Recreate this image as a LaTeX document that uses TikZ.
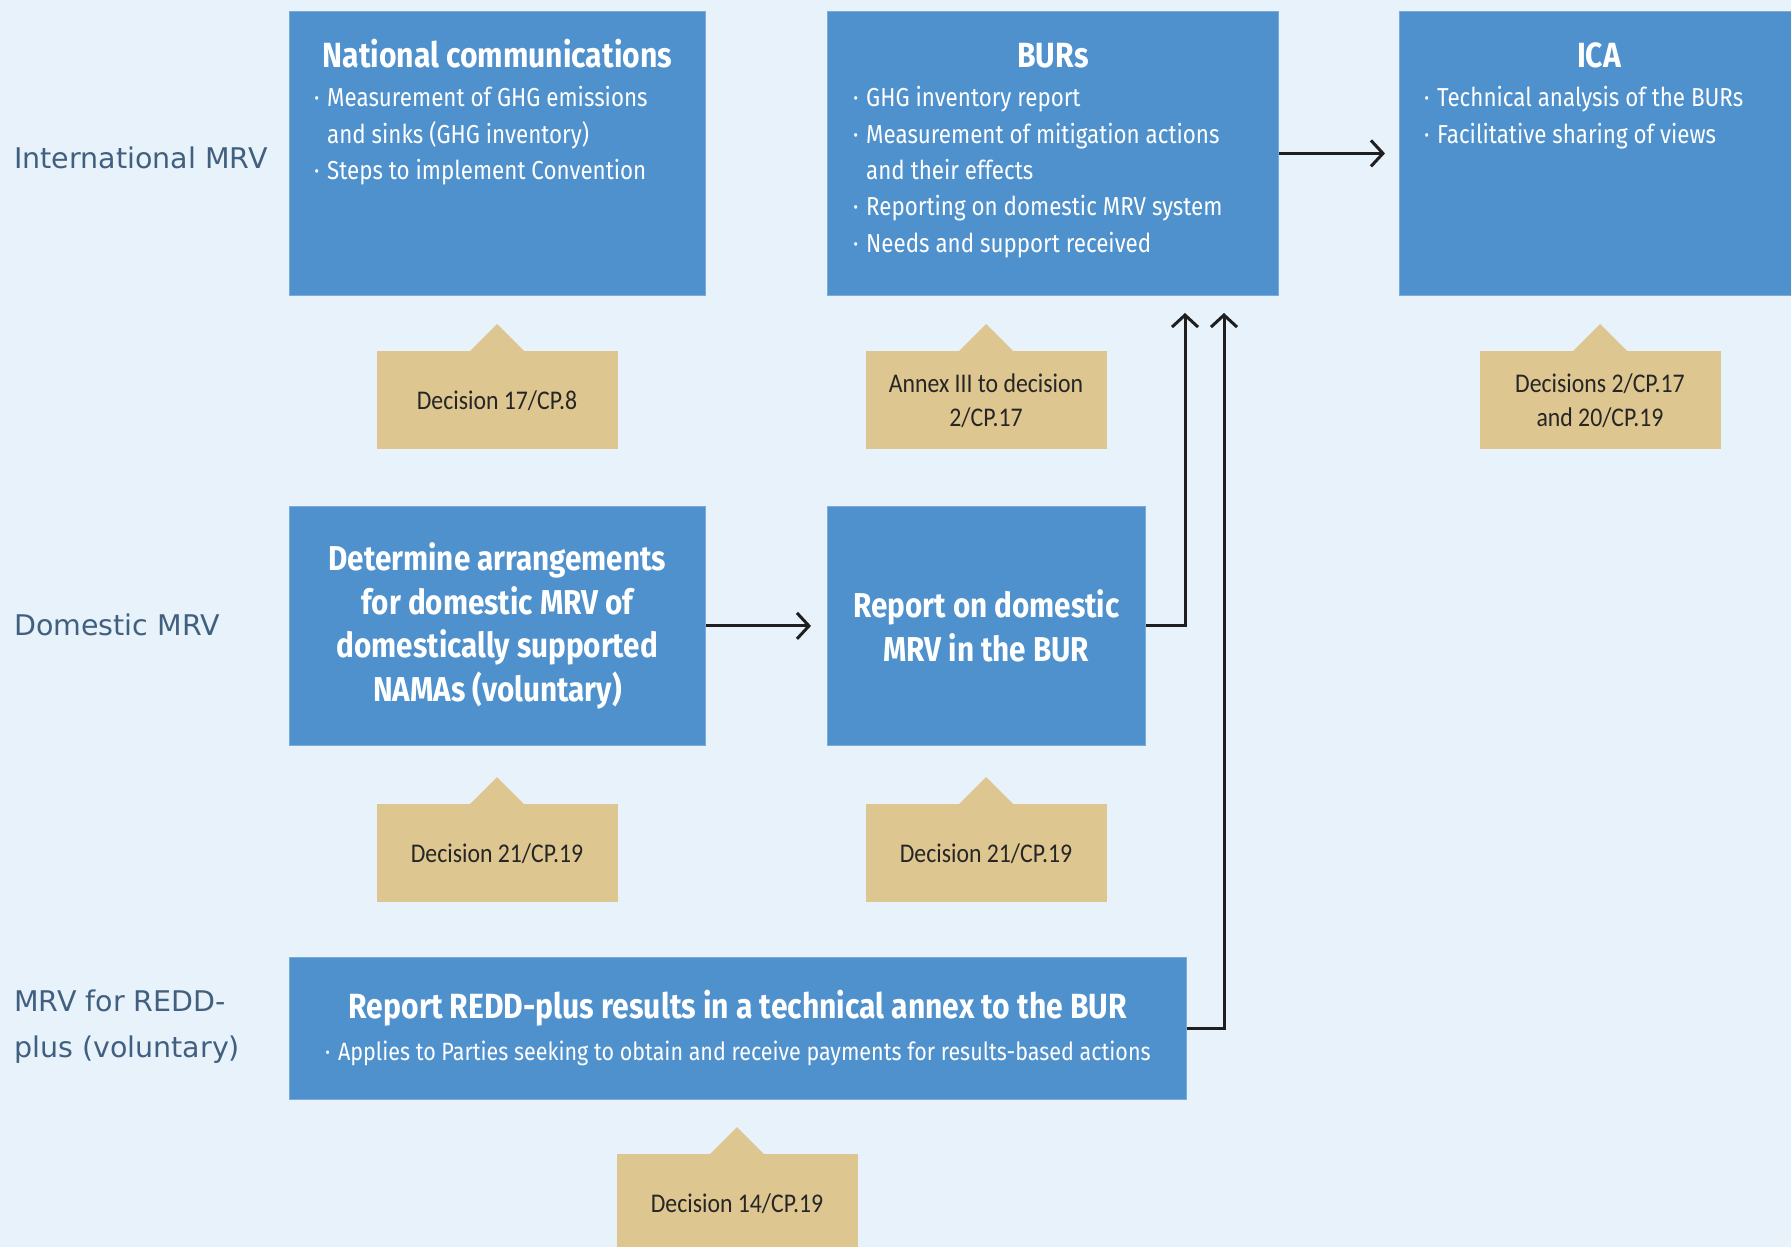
\documentclass[tikz,border=0pt]{standalone}
\usepackage{fontspec}
\setmainfont{Fira Sans}
\newfontfamily\boxfont[FakeStretch=0.86]{Fira Sans}
\newfontfamily\tagfont[FakeStretch=0.88]{Carlito}
\newfontfamily\rowfont{DejaVu Sans}
\usetikzlibrary{arrows.meta,positioning}
\definecolor{bgblue}{HTML}{E8F2FB}
\definecolor{boxblue}{HTML}{4F91CD}
\definecolor{tagtan}{HTML}{DEC690}
\definecolor{rowtext}{HTML}{41607F}
\definecolor{linkdark}{HTML}{1F1F1F}
\tikzset{bluebox/.style={fill=boxblue,draw=boxblue!75!white,line width=0.8pt,inner sep=0pt,anchor=north west},
  boxhead/.style={text=white,font=\boxfont\bfseries\fontsize{35}{40}\selectfont,anchor=base,inner sep=0pt},
  boxlist/.style={text=white,font=\boxfont\fontsize{26}{36.4}\selectfont,align=left,anchor=north west,inner sep=0pt},
  boxbold/.style={text=white,font=\boxfont\bfseries\fontsize{34.5}{43.6}\selectfont,align=center},
  tagbox/.style={fill=tagtan,minimum width=241pt,minimum height=98pt,anchor=north,inner sep=0pt,
    align=center,text=black!85,font=\tagfont\fontsize{27}{34}\selectfont},
  rowlabel/.style={text=rowtext,font=\rowfont\fontsize{28.5}{46}\selectfont,align=left,anchor=west,inner sep=0pt},
  link/.style={draw=linkdark,line width=3pt,line join=miter,-{Straight Barb[length=12pt,width=26pt,line width=3pt]}}}
\newcommand{\bul}{\makebox[13pt][l]{·}}
\newcommand{\bulgap}{\hspace*{13pt}}
\newcommand{\tagpeak}[1]{\fill[tagtan] ([xshift=-28pt,yshift=-1pt]#1.north) -- ([yshift=27pt]#1.north) -- ([xshift=28pt,yshift=-1pt]#1.north) -- cycle;}

\begin{document}
\begin{tikzpicture}[x=1pt,y=-1pt]
  \useasboundingbox (0,0) rectangle (1791,1247);
  \clip (0,0) rectangle (1791,1247);
  \fill[bgblue] (0,0) rectangle (1791,1247);

  % row labels
  \node[rowlabel] (intl) at (14,158) {International MRV};
  \node[rowlabel] (dom) at (14,625) {Domestic MRV};
  \node[rowlabel] (reddrow) at (14,1027) {MRV for REDD-\\plus (voluntary)};

  % international row
  \node[bluebox,minimum width=416pt,minimum height=284pt] (natcom) at (289,11) {};
  \node[boxhead] (natcomhead) at ([yshift=-56pt]natcom.north) {National communications};
  \node[boxlist] (natcomlist) at (314,81) {\strut\bul Measurement of GHG emissions\\\bulgap and sinks (GHG inventory)\\\bul Steps to implement Convention};

  \node[bluebox,minimum width=451pt,minimum height=284pt] (burs) at (827,11) {};
  \node[boxhead] (burshead) at ([yshift=-56pt]burs.north) {BURs};
  \node[boxlist] (burslist) at (853,81) {\strut\bul GHG inventory report\\\bul Measurement of mitigation actions\\\bulgap and their effects\\\bul Reporting on domestic MRV system\\\bul Needs and support received};

  \node[bluebox,minimum width=420pt,minimum height=284pt] (ica) at (1399,11) {};
  \node[boxhead] (icahead) at (1599,67) {ICA};
  \node[boxlist] (icalist) at (1424,81) {\strut\bul Technical analysis of the BURs\\\bul Facilitative sharing of views};

  % domestic row
  \node[bluebox,boxbold,minimum width=416pt,minimum height=239pt] (arrange) at (289,506) {Determine arrangements\\for domestic MRV of\\domestically supported\\NAMAs (voluntary)};
  \node[bluebox,boxbold,minimum width=318pt,minimum height=239pt] (report) at (827,506) {Report on domestic\\MRV in the BUR};

  % REDD-plus row
  \node[bluebox,minimum width=897pt,minimum height=142pt,align=center,text=white,
    font=\boxfont\fontsize{25}{42}\selectfont] (redd) at (289,957)
    {{\bfseries\fontsize{35}{42}\selectfont Report REDD-plus results in a technical annex to the BUR}\\
     \bul Applies to Parties seeking to obtain and receive payments for results-based actions};

  % decision tags
  \node[tagbox] (tagnatcom) at (497,351) {Decision 17/CP.8};
  \node[tagbox] (tagburs) at (986,351) {Annex III to decision\\2/CP.17};
  \node[tagbox] (tagica) at (1600,351) {Decisions 2/CP.17\\and 20/CP.19};
  \node[tagbox] (tagarrange) at (497,804) {Decision 21/CP.19};
  \node[tagbox] (tagreport) at (986,804) {Decision 21/CP.19};
  \node[tagbox] (tagredd) at (737,1154) {Decision 14/CP.19};
  \foreach \t in {tagnatcom,tagburs,tagica,tagarrange,tagreport,tagredd} {\tagpeak{\t}}

  % connectors
  \coordinate (feedA) at (1185,313);
  \coordinate (feedB) at (1224,313);
  \draw[link] (burs.east) -- ([xshift=-14pt]ica.west);
  \draw[link] (arrange.east) -- ([xshift=-16pt]report.west);
  \draw[link] (report.east) -| (feedA);
  \draw[link] (redd.east) -| (feedB);
\end{tikzpicture}
\end{document}
